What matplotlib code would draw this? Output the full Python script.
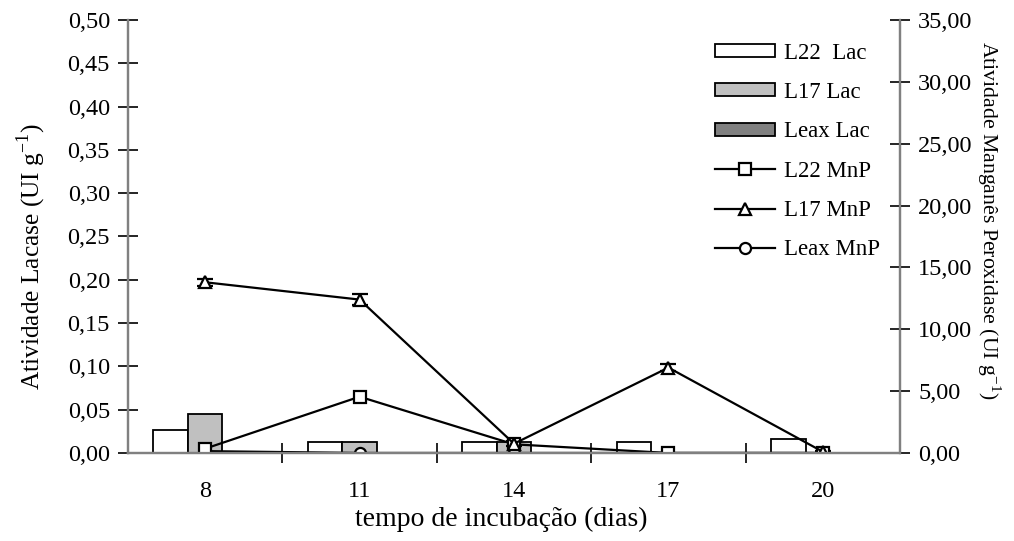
import numpy as np
import matplotlib
matplotlib.use("Agg")
import matplotlib.pyplot as plt
from matplotlib.ticker import FuncFormatter
from matplotlib.lines import Line2D

plt.rcParams['font.family'] = ['Liberation Serif', 'DejaVu Serif']
plt.rcParams['mathtext.fontset'] = 'custom'
plt.rcParams['mathtext.rm'] = 'Liberation Serif'
plt.rcParams['font.size'] = 16.5

# dados
dias = ['8', '11', '14', '17', '20']
l22_lac = [0.027, 0.013, 0.013, 0.013, 0.016]
l17_lac = [0.045, 0.013, 0.013, 0.0, 0.0]
leax_lac = [0.0, 0.0, 0.0, 0.0, 0.0]
l22_mnp = [0.35, 4.55, 0.70, 0.0, 0.0]
l17_mnp = [13.8, 12.4, 0.75, 6.9, 0.1]
leax_mnp = [0.15, 0.0, 0.0, 0.0, 0.0]
l22_err = [0.2, 0.2, 0.2, 0.0, 0.0]
l17_err = [0.3, 0.45, 0.2, 0.3, 0.1]

x = np.arange(len(dias))
w = 0.2235
grey = '#808080'

fig = plt.figure(figsize=(10.14, 5.41), dpi=100)
ax = fig.add_axes([0.1262, 0.1627, 0.7614, 0.8003])
ax2 = ax.twinx()

b1 = ax.bar(x - w, l22_lac, w, color='white', edgecolor='black', lw=1.3, label='L22  Lac')
b2 = ax.bar(x, l17_lac, w, color='#c0c0c0', edgecolor='black', lw=1.3, label='L17 Lac')
b3 = ax.bar(x + w, leax_lac, w, color='#808080', edgecolor='black', lw=1.3, label='Leax Lac')

mk = dict(color='black', lw=1.6, mfc='white', mec='black', mew=1.6)
ax2.errorbar(x, l22_mnp, yerr=l22_err, marker='s', ms=8, capsize=5, elinewidth=1.2, capthick=1.2, **mk)
ax2.errorbar(x, l17_mnp, yerr=l17_err, marker='^', ms=9, capsize=6, elinewidth=1.2, capthick=1.2, **mk)
ax2.plot(x, leax_mnp, marker='o', ms=8, **mk)

l1 = Line2D([], [], marker='s', ms=8, **mk)
l2 = Line2D([], [], marker='^', ms=9, **mk)
l3 = Line2D([], [], marker='o', ms=8, **mk)

ax.set_xlim(-0.5, 4.5)
ax.set_ylim(0, 0.5)
ax2.set_ylim(0, 35)
ax.set_yticks(np.arange(0, 0.51, 0.05))
ax2.set_yticks(np.arange(0, 35.1, 5))
ax.yaxis.set_major_formatter(FuncFormatter(lambda v, p: ('%.2f' % v).replace('.', ',')))
ax2.yaxis.set_major_formatter(FuncFormatter(lambda v, p: ('%.2f' % v).replace('.', ',')))

ax.set_xticks(x)
ax.set_xticklabels(dias)
ax.set_xticks(np.arange(0.5, 4.0, 1.0), minor=True)
ax.tick_params(axis='x', which='major', length=0, pad=20, labelsize=17.5)
ax.tick_params(axis='x', which='minor', direction='inout', length=14, width=1.2, color='black')
ax.tick_params(axis='y', direction='inout', length=14, width=1.2, color='black', pad=6, labelsize=17.5)
ax2.tick_params(axis='y', direction='inout', length=14, width=1.2, color='black', pad=6, labelsize=17.5)

for a in (ax, ax2):
    a.spines['top'].set_visible(False)
    for s in ('left', 'right', 'bottom'):
        a.spines[s].set_color(grey)
        a.spines[s].set_linewidth(1.6)

ax.set_xlabel('tempo de incubação (dias)', fontsize=20)
ax.xaxis.set_label_coords(0.484, -0.125)
ax.set_ylabel('Atividade Lacase (UI g$^{\\mathregular{-1}}$)', fontsize=18.3)
ax.yaxis.set_label_coords(-0.103, 0.453)
ax2.set_ylabel('Atividade Manganês Peroxidase (UI g$^{\\mathregular{-1}}$)', rotation=-90, fontsize=15.7)
ax2.yaxis.set_label_coords(1.133, 0.538)

handles = [b1, b2, b3, l1, l2, l3]
labels = ['L22  Lac', 'L17 Lac', 'Leax Lac', 'L22 MnP', 'L17 MnP', 'Leax MnP']
ax2.legend(handles, labels, loc='upper right', bbox_to_anchor=(0.995, 0.985), frameon=False,
           handlelength=2.6, handleheight=0.5, labelspacing=0.8, handletextpad=0.4,
           borderaxespad=0.3)

fig.savefig('out.png', dpi=100)
